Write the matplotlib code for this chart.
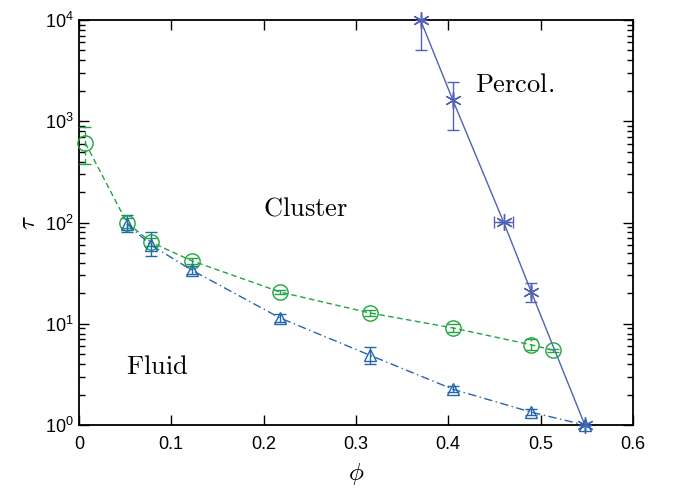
import matplotlib
matplotlib.use('Agg')
import matplotlib.pyplot as plt
import numpy as np

plt.rcParams['mathtext.fontset'] = 'cm'
plt.rcParams['font.family'] = ['Liberation Sans', 'DejaVu Sans']

# percolation line (asterisks)
perc_phi = [0.370, 0.405, 0.460, 0.490, 0.548]
perc_tau = [10000, 1620, 101, 20.6, 1.0]
perc_lo = [5000, 815, 101, 16.4, 1.0]
perc_hi = [10000, 2450, 101, 25.0, 1.0]
perc_xerr = [0, 0, 0.01, 0, 0]

# cluster line (circles)
circ_phi = [0.007, 0.052, 0.078, 0.122, 0.218, 0.315, 0.405, 0.490, 0.513]
circ_tau = [610, 100, 64, 42, 20.6, 12.8, 9.1, 6.2, 5.5]
circ_lo = [380, 88, 58, 39, 19.5, 12.0, 8.3, 5.5, 5.3]
circ_hi = [870, 112, 70, 45, 21.8, 13.6, 9.9, 7.0, 5.7]

# fluid line (triangles)
tri_phi = [0.052, 0.078, 0.122, 0.218, 0.315, 0.405, 0.490, 0.548]
tri_tau = [97, 60, 34, 11.4, 4.9, 2.26, 1.34, 1.0]
tri_lo = [80, 47, 31, 10.5, 4.0, 2.1, 1.25, 1.0]
tri_hi = [119, 80, 37, 12.5, 5.9, 2.45, 1.45, 1.0]

c_perc = '#4f62b3'
c_circ = '#1fa541'
c_tri = '#2466b0'

fig = plt.figure(figsize=(6.74, 4.88), dpi=100)
ax = fig.add_axes([0.117, 0.129, 0.822, 0.830])


def yerr(t, lo, hi):
    t = np.array(t)
    return [t - np.array(lo), np.array(hi) - t]


ax.errorbar(perc_phi, perc_tau, yerr=yerr(perc_tau, perc_lo, perc_hi), xerr=perc_xerr,
            color=c_perc, ls='-', lw=1.0, marker=(6, 2, 0), ms=12, mew=1.0,
            capsize=4, elinewidth=1.0, clip_on=False, zorder=3)
e2 = ax.errorbar(circ_phi, circ_tau, yerr=yerr(circ_tau, circ_lo, circ_hi),
                 color=c_circ, ls=(0, (4, 2.5)), lw=1.0, marker='o', ms=11, mfc='none',
                 mew=1.0, capsize=4, elinewidth=1.0, clip_on=False, zorder=3)
e2[2][0].set_linestyle((0, (4, 2.5)))
ax.errorbar(tri_phi, tri_tau, yerr=yerr(tri_tau, tri_lo, tri_hi),
            color=c_tri, ls=(0, (6, 2.5, 1, 2.5)), lw=1.0, marker='^', ms=9, mfc='none',
            mew=1.0, capsize=4, elinewidth=1.0, clip_on=False, zorder=3)

ax.set_yscale('log')
ax.set_xlim(0, 0.6)
ax.set_ylim(1, 1e4)
ax.set_xticks(np.arange(0, 0.61, 0.1))
ax.set_xticklabels(['0', '0.1', '0.2', '0.3', '0.4', '0.5', '0.6'])
ax.tick_params(which='both', direction='in', top=True, right=True, labelsize=13)
ax.tick_params(which='major', length=7, width=1.0)
ax.tick_params(which='minor', length=4, width=1.0)
ax.tick_params(axis='x', pad=8)
for s in ax.spines.values():
    s.set_linewidth(1.3)

ax.set_xlabel(r'$\phi$', fontsize=18, labelpad=6)
ax.set_ylabel(r'$\tau$', fontsize=18, labelpad=4)

ax.text(0.472, 2290, r'$\mathrm{Percol.}$', fontsize=19, ha='center', va='center')
ax.text(0.245, 139, r'$\mathrm{Cluster}$', fontsize=19, ha='center', va='center')
ax.text(0.0845, 3.74, r'$\mathrm{Fluid}$', fontsize=19, ha='center', va='center')

fig.savefig('out.png', dpi=100)
